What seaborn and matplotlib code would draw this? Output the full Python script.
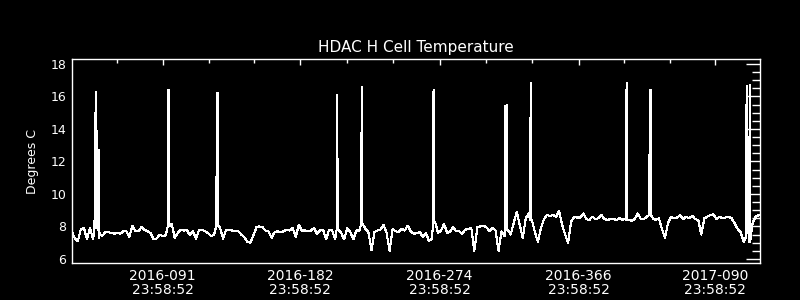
import numpy as np
import pandas as pd
import matplotlib
matplotlib.use("Agg")
import matplotlib.pyplot as plt
import seaborn as sns
from matplotlib.ticker import FixedLocator, MultipleLocator

title = "HDAC H Cell Temperature"
ylabel = "Degrees C"

# x axis: day of 2016 (2017-090 -> day 456)
tick_days = [91, 182, 274, 366, 456]
tick_labels = ["2016-091\n23:58:52", "2016-182\n23:58:52", "2016-274\n23:58:52",
               "2016-366\n23:58:52", "2017-090\n23:58:52"]

# baseline temperature sampled every 2 days (day 31 .. 485)
base_days = np.arange(31, 486, 2)
base_temps = [
    7.7, 7.25, 7.1, 7.85, 7.9, 7.2, 7.9, 7.2, 7.9, 7.3,
    7.4, 7.65, 7.65, 7.6, 7.55, 7.6, 7.55, 7.7, 7.7, 7.35,
    8.05, 7.7, 7.7, 7.95, 7.8, 7.7, 7.6, 7.2, 7.25, 7.5,
    7.4, 7.45, 8.0, 8.15, 7.3, 7.6, 7.8, 7.75, 7.8, 7.45,
    7.7, 7.25, 7.75, 7.8, 7.7, 7.6, 7.4, 7.5, 8.15, 7.9,
    7.25, 7.8, 7.8, 7.75, 7.7, 7.7, 7.5, 7.35, 7.05, 7.0,
    7.45, 7.95, 8.0, 7.95, 7.75, 7.7, 7.3, 7.65, 7.7, 7.65,
    7.7, 7.8, 7.75, 7.9, 7.35, 8.1, 7.75, 7.75, 7.7, 7.75,
    7.9, 7.55, 7.75, 7.8, 7.2, 7.8, 7.75, 7.2, 7.8, 7.6,
    7.2, 7.9, 7.65, 7.2, 7.75, 7.75, 8.2, 7.85, 7.65, 6.55,
    7.65, 7.75, 7.8, 8.1, 7.6, 6.5, 7.85, 7.7, 7.65, 7.85,
    7.75, 8.05, 7.7, 7.55, 7.6, 7.65, 7.35, 7.6, 7.1, 7.25,
    8.3, 7.6, 7.75, 8.15, 7.6, 7.7, 7.95, 7.7, 7.7, 7.55,
    7.8, 7.85, 7.9, 6.5, 7.95, 8.0, 8.05, 7.95, 7.7, 7.9,
    7.75, 6.5, 7.7, 7.4, 7.8, 7.5, 8.2, 8.9, 8.1, 7.3,
    8.5, 8.8, 8.4, 7.65, 7.05, 7.9, 8.45, 8.7, 8.65, 8.7,
    8.6, 8.95, 8.1, 7.5, 7.0, 8.3, 8.6, 8.55, 8.55, 8.8,
    8.45, 8.4, 8.6, 8.45, 8.5, 8.7, 8.45, 8.4, 8.45, 8.45,
    8.4, 8.5, 8.4, 8.5, 8.4, 8.35, 8.45, 8.8, 8.45, 8.45,
    8.6, 8.75, 8.5, 8.4, 8.5, 7.85, 7.3, 8.2, 8.6, 8.5,
    8.55, 8.7, 8.45, 8.6, 8.5, 8.65, 8.45, 8.4, 7.5, 8.5,
    8.6, 8.7, 8.75, 8.45, 8.6, 8.5, 8.55, 8.6, 8.5, 8.2,
    7.85, 7.65, 7.05, 7.6, 7.05, 8.25, 8.6, 8.7,
]

# heater spikes (rise / peak / fall samples)
spike_days = [
    46.0, 46.1, 46.5, 46.7, 46.9, 47.1, 47.5, 47.7, 48.0, 48.9, 49.05, 49.2,
    94.4, 94.5, 94.9, 95.02,
    126.6, 126.7, 127.3, 127.4,
    206.0, 206.1, 206.4, 206.7,
    222.4, 222.5, 222.7, 222.8,
    269.8, 269.9, 270.1, 270.3,
    317.3, 317.4, 317.6, 318.2, 318.4, 318.6,
    333.8, 333.9, 334.2, 334.4, 334.6,
    397.05, 397.1, 397.5, 397.7, 397.9,
    412.6, 412.7, 413.2, 413.4, 413.6,
    476.3, 476.4, 476.6, 477.2, 477.3, 477.5, 478.1, 478.2, 478.4, 478.95, 479.1, 479.3,
]
spike_temps = [
    7.9, 13.9, 7.9, 16.3, 7.9, 14.0, 7.9, 13.9, 7.8, 7.8, 12.7, 7.6,
    8.0, 16.4, 16.4, 8.0,
    8.1, 16.2, 16.2, 8.1,
    7.8, 16.1, 15.7, 7.8,
    8.2, 16.6, 13.2, 8.2,
    8.3, 16.0, 16.4, 8.3,
    7.6, 15.4, 10.1, 10.1, 15.5, 7.8,
    8.4, 14.7, 14.7, 16.8, 8.4,
    8.4, 16.0, 16.0, 16.8, 8.4,
    8.7, 12.4, 12.4, 16.4, 8.7,
    7.3, 15.5, 7.5, 7.6, 16.65, 8.0, 8.0, 13.5, 7.06, 7.1, 16.7, 7.1,
]

df = pd.DataFrame({
    "day": np.concatenate([base_days, np.array(spike_days)]),
    "temp": np.concatenate([np.array(base_temps), np.array(spike_temps)]),
})

sns.set_style("dark")
plt.rcParams["font.family"] = ["DejaVu Sans"]

fig = plt.figure(figsize=(8, 3), dpi=100, facecolor="black")
ax = fig.add_axes([0.09, 0.1233, 0.86, 0.68])
ax.set_facecolor("black")

sns.lineplot(data=df, x="day", y="temp", estimator=None, sort=True,
             color="white", lw=0.8, antialiased=False, ax=ax)

ax.grid(False)
ax.set_xlim(31.1, 485.8)
ax.set_ylim(5.75, 18.3)

# x ticks
ax.xaxis.set_major_locator(FixedLocator(tick_days))
ax.set_xticklabels(tick_labels, fontsize=10, color="white", linespacing=1.05)
minor_x = []
for a, b in zip(tick_days[:-1], tick_days[1:]):
    minor_x += [a + (b - a) / 3, a + 2 * (b - a) / 3]
minor_x = [tick_days[0] - 30.4] + minor_x
ax.xaxis.set_minor_locator(FixedLocator(minor_x))

# y ticks
ax.yaxis.set_major_locator(MultipleLocator(2))
ax.yaxis.set_minor_locator(MultipleLocator(0.5))
ax.tick_params(axis="y", labelsize=9)

ax.tick_params(which="both", direction="in", top=True, right=True,
               colors="white", labelcolor="white", width=1)
ax.tick_params(axis="x", which="major", length=4.5, pad=4)
ax.tick_params(axis="x", which="minor", length=2.6)
ax.tick_params(axis="y", which="major", length=10, pad=4)
ax.tick_params(axis="y", which="minor", length=5.5)

for s in ax.spines.values():
    s.set_color("white")
    s.set_linewidth(1)

ax.set_xlabel("")
ax.set_ylabel(ylabel, color="white", fontsize=9, labelpad=8)
ax.set_title(title, color="white", fontsize=11, pad=5)

fig.savefig("out.png", dpi=100, facecolor="black")
